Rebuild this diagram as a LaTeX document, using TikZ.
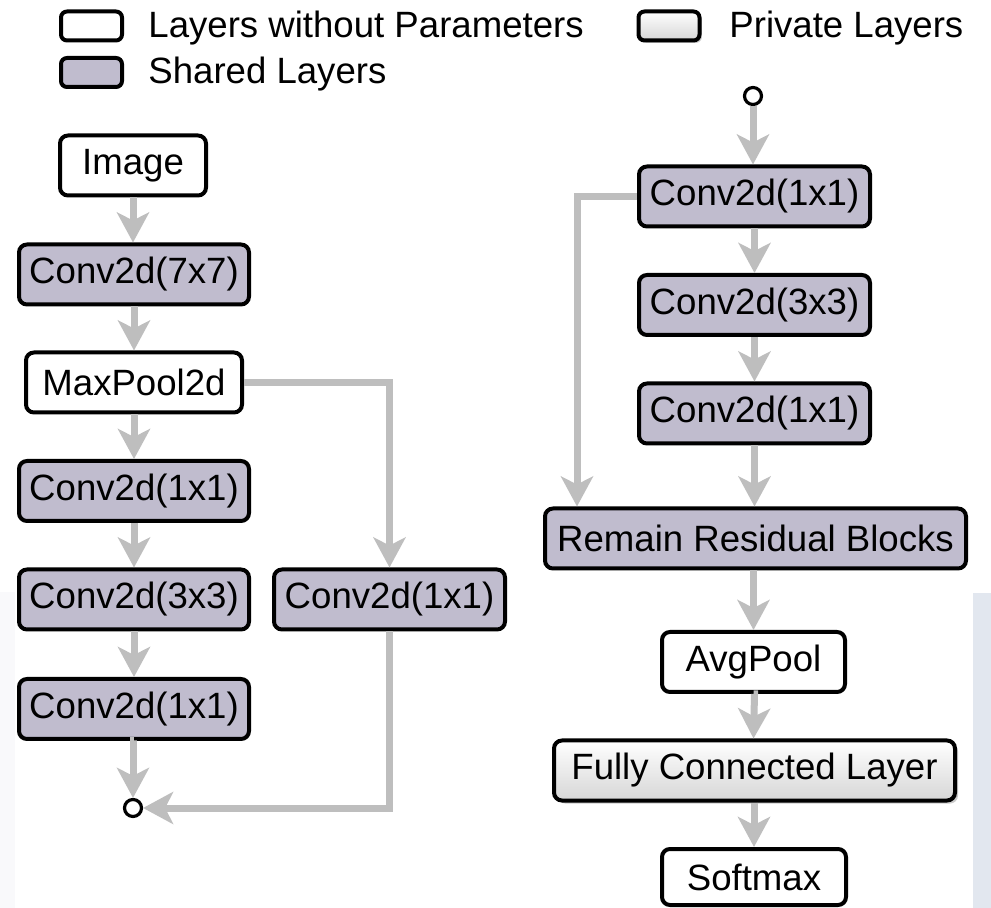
\documentclass[tikz,border=0pt]{standalone}
\usepackage{fontspec}
\setmainfont{Liberation Sans}
\usetikzlibrary{arrows.meta,shadows}
\definecolor{sharedfill}{RGB}{192,188,206}
\definecolor{flowgray}{RGB}{190,190,190}
\definecolor{leftstrip}{RGB}{249,249,251}
\definecolor{rightstrip}{RGB}{226,231,239}
\begin{document}
\begin{tikzpicture}[x=0.5pt,y=-0.5pt,
  every node/.style={font=\fontsize{18.3}{22}\selectfont},
  layer/.style={draw=black, line width=2pt, rounded corners=4pt, inner sep=0pt, minimum height=30pt},
  plainlayer/.style={layer, fill=white},
  sharedlayer/.style={layer, fill=sharedfill},
  privatelayer/.style={layer, top color=white, bottom color=black!16,
    drop shadow={shadow xshift=1.5pt, shadow yshift=-1.5pt, fill=black!45, opacity=0.45}},
  keybox/.style={draw=black, line width=2pt, rounded corners=3pt, inner sep=0pt,
    minimum width=30.5pt, minimum height=14.5pt},
  keytext/.style={anchor=base west, inner sep=0pt},
  junction/.style={circle, draw=black, line width=1.6pt, fill=white, minimum size=8.5pt, inner sep=0pt},
  flow/.style={draw=flowgray, line width=3.5pt, line join=miter,
    -{Stealth[length=15pt, width=16pt, inset=4pt]}}
]
% page and faint side strips
\useasboundingbox (0,0) rectangle (991,908);
\fill[white] (0,0) rectangle (991,908);
\fill[leftstrip] (0,592) rectangle (15,908);
\fill[rightstrip] (973,593) rectangle (991,908);

% legend
\node[keybox, fill=white] (kplain) at (91.5,26) {};
\node[keytext] (tplain) at (148,37.5) {Layers without Parameters};
\node[keybox, fill=sharedfill] (kshared) at (91.5,72.5) {};
\node[keytext] (tshared) at (148,83.5) {Shared Layers};
\node[keybox, top color=white, bottom color=black!16,
  drop shadow={shadow xshift=1.2pt, shadow yshift=-1.2pt, fill=black!45, opacity=0.45}] (kprivate) at (669,26) {};
\node[keytext] (tprivate) at (729,37.5) {Private Layers};

% stem
\node[plainlayer, minimum width=73pt] (img) at (133,165.5) {Image};
\node[sharedlayer, minimum width=115pt] (c7) at (134,274.5) {Conv2d(7x7)};
\node[plainlayer, minimum width=108pt] (mp) at (134,382.5) {MaxPool2d};

% first bottleneck block
\node[sharedlayer, minimum width=115pt] (c1a) at (134,491) {Conv2d(1x1)};
\node[sharedlayer, minimum width=115pt] (c3a) at (134,599.5) {Conv2d(3x3)};
\node[sharedlayer, minimum width=115pt] (c1b) at (134,709) {Conv2d(1x1)};
\node[sharedlayer, minimum width=115.5pt] (rc) at (389.5,599.5) {Conv2d(1x1)};
\node[junction] (j1) at (133,808) {};

% continued block and head
\node[junction] (j2) at (753,96) {};
\node[sharedlayer, minimum width=115.5pt] (r1) at (754.5,196.5) {Conv2d(1x1)};
\node[sharedlayer, minimum width=115.5pt] (r2) at (754.5,305) {Conv2d(3x3)};
\node[sharedlayer, minimum width=115.5pt] (r3) at (754.5,413.5) {Conv2d(1x1)};
\node[sharedlayer, minimum width=210.5pt] (rem) at (755.5,538.5) {Remain Residual Blocks};
\node[plainlayer, minimum width=91.5pt] (avg) at (753.5,662) {AvgPool};
\node[privatelayer, minimum width=200.5pt] (fc) at (754.5,770.5) {Fully Connected Layer};
\node[plainlayer, minimum width=92pt, minimum height=28pt] (soft) at (754,877) {Softmax};
\coordinate (skipx) at (577,0);

% connectors, left column
\draw[flow] (img) -- (img.south |- c7.north);
\draw[flow] (c7) -- (c7.south |- mp.north);
\draw[flow] (mp.south) -- (mp.south |- c1a.north);
\draw[flow] (c1a.south) -- (c1a.south |- c3a.north);
\draw[flow] (c3a.south) -- (c3a.south |- c1b.north);
\draw[flow] (c1b.south) -- (c1b.south -| j1.north) -- (j1.north);
\draw[flow] (mp.east) -| (rc.north);
\draw[flow] (rc.south) |- (j1.east);

% connectors, right column
\draw[flow] (j2.south) -- (j2.south |- r1.north);
\draw[flow] (r1.south) -- (r2.north);
\draw[flow] (r2.south) -- (r3.north);
\draw[flow] (r3.south) -- (r3.south |- rem.north);
\draw[flow] (r1.west) -| (skipx |- rem.north);
\draw[flow] (rem.south -| avg.north) -- (avg.north);
\draw[flow] (avg.south) -- (avg.south -| fc.north) -- (fc.north -| avg.south);
\draw[flow] (fc.south -| soft.north) -- (soft.north);
\end{tikzpicture}
\end{document}
